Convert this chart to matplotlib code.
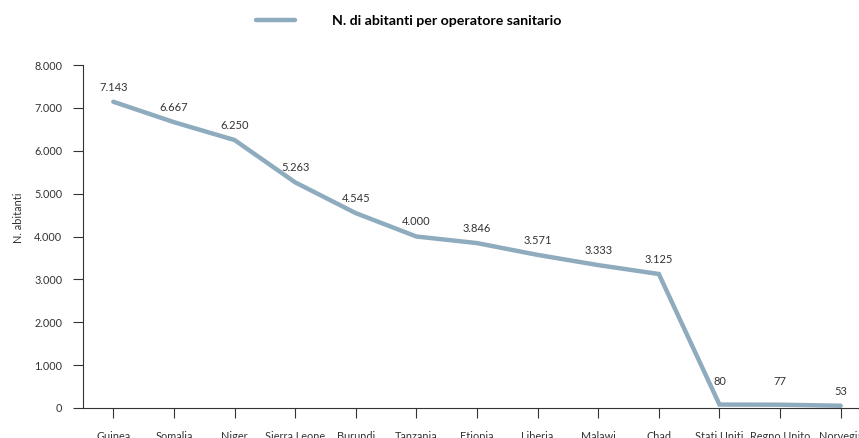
import matplotlib
matplotlib.use("Agg")
import matplotlib.pyplot as plt
from matplotlib.lines import Line2D

countries = ["Guinea", "Somalia", "Niger", "Sierra Leone", "Burundi", "Tanzania",
             "Etiopia", "Liberia", "Malawi", "Chad", "Stati Uniti", "Regno Unito", "Norvegia"]
values = [7143, 6667, 6250, 5263, 4545, 4000, 3846, 3571, 3333, 3125, 80, 77, 53]
labels = ["7.143", "6.667", "6.250", "5.263", "4.545", "4.000", "3.846", "3.571",
          "3.333", "3.125", "80", "77", "53"]
yticks = [0, 1000, 2000, 3000, 4000, 5000, 6000, 7000, 8000]
yticklabels = ["0", "1.000", "2.000", "3.000", "4.000", "5.000", "6.000", "7.000", "8.000"]
series_name = "N. di abitanti per operatore sanitario"

plt.rcParams['font.family'] = ['Lato', 'DejaVu Sans']
line_color = "#8FACBE"
text_color = "#333333"

fig = plt.figure(figsize=(8.59, 4.38), dpi=100)
ax = fig.add_axes([83/859, 30/438, 788/859, 343/438])

x = list(range(len(countries)))
ax.plot(x, values, color=line_color, lw=3.2, solid_capstyle='round', solid_joinstyle='miter')
raised = {"Stati Uniti", "Regno Unito"}
for xi, v, lab, c in zip(x, values, labels, countries):
    dy = 16.5 if c in raised else 10.5
    ax.annotate(lab, (xi, v), xytext=(0, dy), textcoords='offset points',
                ha='center', va='center', fontsize=8, color=text_color)

ax.set_xlim(-0.5, len(countries) - 0.5)
ax.set_ylim(0, 8000)
ax.set_xticks(x)
ax.set_xticklabels(countries, fontsize=7.8, color=text_color)
ax.set_yticks(yticks)
ax.set_yticklabels(yticklabels, fontsize=7.8, color=text_color)
ax.tick_params(axis='both', direction='out', length=7, width=0.8, color=text_color)
ax.tick_params(axis='y', pad=8)
ax.tick_params(axis='x', pad=9.3)
ax.set_ylabel("N. abitanti", fontsize=7.8, color=text_color, va='center')
ax.yaxis.set_label_coords((18 - 83) / 788, (408 - 218) / 343)
for s in ['top', 'right']:
    ax.spines[s].set_visible(False)
for s in ['left', 'bottom']:
    ax.spines[s].set_linewidth(0.8)
    ax.spines[s].set_color(text_color)

handle = Line2D([0], [0], color=line_color, lw=3.2, solid_capstyle='round')
fig.legend([handle], [series_name], loc='center left', bbox_to_anchor=(243/859, 1 - 21/438),
           frameon=False, handlelength=2.8, handletextpad=2.6,
           prop={'weight': 'bold', 'size': 10.2})

fig.savefig("out.png", dpi=100)
